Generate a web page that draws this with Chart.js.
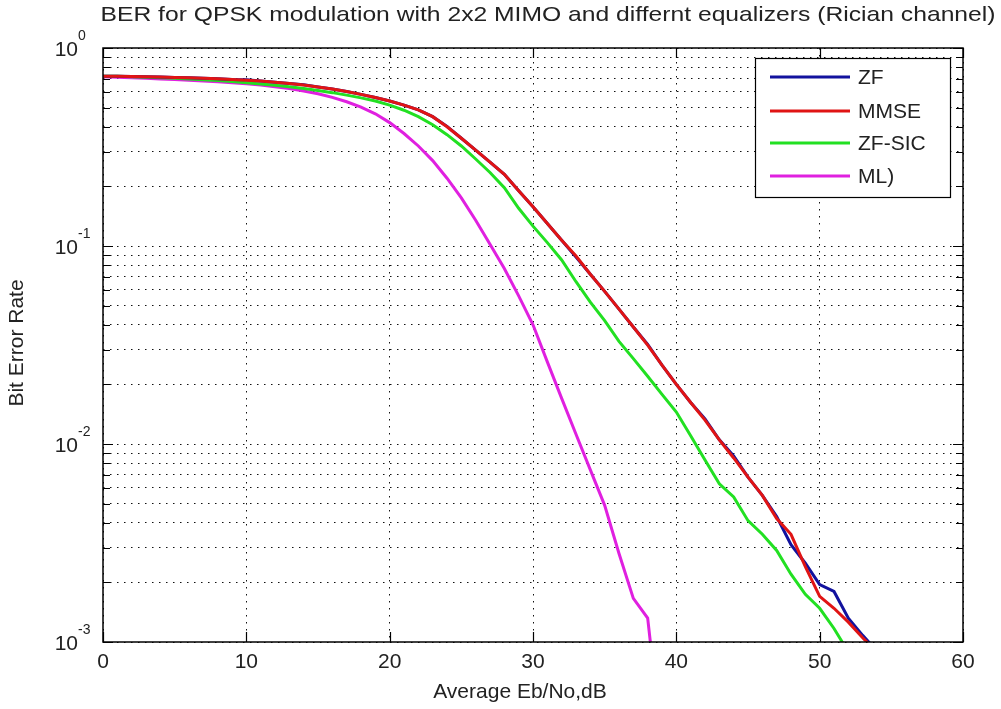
<!DOCTYPE html>
<html>
<head>
<meta charset="utf-8">
<script src="https://cdn.jsdelivr.net/npm/chart.js@4.4.0/dist/chart.umd.min.js"></script>
<style>
  html, body { margin: 0; padding: 0; background: #fff; }
  #wrap { width: 1001px; height: 709px; }
</style>
</head>
<body>
<div id="wrap"><canvas id="ber-chart" width="1001" height="709"></canvas></div>
<script>
// --- Data ---
const snrDb = [0, 1, 2, 3, 4, 5, 6, 7, 8, 9, 10, 11, 12, 13, 14, 15, 16, 17, 18, 19,
    20, 21, 22, 23, 24, 25, 26, 27, 28, 29, 30, 31, 32, 33, 34, 35, 36, 37, 38, 39,
    40, 41, 42, 43, 44, 45, 46, 47, 48, 49, 50, 51, 52, 53, 54];

const berZF = [0.72, 0.72, 0.718, 0.716, 0.713, 0.71, 0.707, 0.703, 0.699, 0.694,
    0.692, 0.681, 0.672, 0.662, 0.652, 0.636, 0.62, 0.603, 0.583, 0.562,
    0.54, 0.515, 0.487, 0.45, 0.402, 0.35, 0.305, 0.265, 0.23, 0.19,
    0.158, 0.13, 0.107, 0.088, 0.072, 0.059, 0.048, 0.039, 0.0318, 0.025,
    0.020, 0.0162, 0.0134, 0.0105, 0.0087, 0.0068, 0.0055, 0.0043, 0.0031, 0.0025,
    0.00195, 0.0018, 0.00132, 0.00108, 0.0009];

const berMMSE = [0.72, 0.72, 0.718, 0.716, 0.713, 0.71, 0.707, 0.703, 0.699, 0.694,
    0.688, 0.681, 0.672, 0.662, 0.65, 0.636, 0.62, 0.603, 0.583, 0.562,
    0.54, 0.515, 0.487, 0.45, 0.40, 0.35, 0.305, 0.265, 0.23, 0.19,
    0.158, 0.13, 0.107, 0.089, 0.072, 0.059, 0.048, 0.039, 0.0316, 0.025,
    0.020, 0.0162, 0.0132, 0.0105, 0.0085, 0.0068, 0.0055, 0.0042, 0.0035, 0.0024,
    0.0017, 0.00148, 0.00126, 0.00105, 0.00089];

const berZFSIC = [0.72, 0.72, 0.715, 0.712, 0.708, 0.703, 0.698, 0.692, 0.685, 0.677,
    0.668, 0.658, 0.648, 0.637, 0.625, 0.61, 0.595, 0.578, 0.56, 0.54,
    0.515, 0.485, 0.45, 0.41, 0.365, 0.32, 0.275, 0.235, 0.197, 0.155,
    0.126, 0.104, 0.085, 0.066, 0.052, 0.042, 0.033, 0.027, 0.022, 0.0178,
    0.0145, 0.011, 0.0083, 0.0063, 0.0054, 0.0041, 0.0035, 0.0029, 0.0022, 0.00174,
    0.00148, 0.00117, 0.00089, null, null];

const berML = [0.715, 0.712, 0.708, 0.703, 0.698, 0.693, 0.687, 0.681, 0.675, 0.668,
    0.66, 0.65, 0.638, 0.624, 0.607, 0.587, 0.563, 0.535, 0.503, 0.465,
    0.42, 0.37, 0.32, 0.27, 0.22, 0.175, 0.135, 0.102, 0.077, 0.056,
    0.04, 0.026, 0.017, 0.0112, 0.0074, 0.0049, 0.0028, 0.00166, 0.00132, 0.0003,
    null, null, null, null, null, null, null, null, null, null,
    null, null, null, null, null];

const xTicks = [0, 10, 20, 30, 40, 50, 60];
const yDecades = [-3, -2, -1, 0];

const titleText = 'BER for QPSK modulation with 2x2 MIMO and differnt equalizers (Rician channel)';
const xLabel = 'Average Eb/No,dB';
const yLabel = 'Bit Error Rate';

// --- Helpers ---
const FONT = '"Liberation Sans", Arial, sans-serif';

function toPoints(values) {
    return snrDb.map((x, i) => ({ x: x, y: values[i] }));
}

// log ticks 1..9 x 10^n, plus the top decade
function buildLogTicks() {
    const ticks = [];
    for (let d = 0; d < yDecades.length - 1; d++) {
        for (let m = 1; m <= 9; m++) {
            ticks.push({ value: m * Math.pow(10, yDecades[d]), major: m === 1 });
        }
    }
    ticks.push({ value: Math.pow(10, yDecades[yDecades.length - 1]), major: true });
    return ticks;
}

// --- MATLAB-like frame, inward ticks, labels and legend ---
const matlabAxes = {
    id: 'matlabAxes',
    afterDatasetsDraw(chart) {
        const { ctx, chartArea: a, scales } = chart;
        ctx.save();
        ctx.strokeStyle = '#000';
        ctx.lineWidth = 1.5;
        ctx.setLineDash([]);
        ctx.strokeRect(a.left, a.top, a.right - a.left, a.bottom - a.top);

        ctx.lineWidth = 1.2;
        ctx.beginPath();
        scales.y.ticks.forEach(t => {
            const py = Math.round(scales.y.getPixelForValue(t.value)) + 0.5;
            const len = t.major ? 10 : 7;
            ctx.moveTo(a.left, py); ctx.lineTo(a.left + len, py);
            ctx.moveTo(a.right, py); ctx.lineTo(a.right - len, py);
        });
        scales.x.ticks.forEach(t => {
            const px = Math.round(scales.x.getPixelForValue(t.value)) + 0.5;
            ctx.moveTo(px, a.bottom); ctx.lineTo(px, a.bottom - 10);
            ctx.moveTo(px, a.top); ctx.lineTo(px, a.top + 10);
        });
        ctx.stroke();

        // legend box
        const lx = 755, ly = 58, lw = 195, lh = 139;
        ctx.fillStyle = '#fff';
        ctx.fillRect(lx, ly, lw, lh);
        ctx.lineWidth = 1.2;
        ctx.strokeRect(lx + 0.5, ly + 0.5, lw, lh);
        const rows = [77, 111, 143, 176];
        ctx.font = '21px ' + FONT;
        ctx.textBaseline = 'middle';
        ctx.textAlign = 'left';
        chart.data.datasets.forEach((ds, i) => {
            ctx.strokeStyle = ds.borderColor;
            ctx.lineWidth = 3;
            ctx.beginPath();
            ctx.moveTo(770, rows[i]); ctx.lineTo(850, rows[i]);
            ctx.stroke();
            ctx.fillStyle = '#222';
            ctx.fillText(ds.label, 858, rows[i] + 1);
        });
        ctx.restore();
    },
    afterDraw(chart) {
        const { ctx, chartArea: a, scales } = chart;
        ctx.save();
        ctx.fillStyle = '#222';

        // x tick labels
        ctx.font = '21px ' + FONT;
        ctx.textAlign = 'center';
        ctx.textBaseline = 'top';
        scales.x.ticks.forEach(t => {
            ctx.fillText(String(t.value), scales.x.getPixelForValue(t.value), a.bottom + 10);
        });

        // y tick labels 10^n
        yDecades.forEach(d => {
            const py = scales.y.getPixelForValue(Math.pow(10, d));
            ctx.font = '21px ' + FONT;
            ctx.textAlign = 'right';
            ctx.textBaseline = 'middle';
            ctx.fillText('10', 78, py + 2);
            ctx.font = '14px ' + FONT;
            ctx.textAlign = 'left';
            ctx.fillText(String(d), 78, py - 12);
        });

        // title, stretched to the reference width
        ctx.font = '21px ' + FONT;
        ctx.textAlign = 'center';
        ctx.textBaseline = 'middle';
        const w = ctx.measureText(titleText).width;
        ctx.save();
        ctx.translate(548, 15);
        ctx.scale(895 / w, 1);
        ctx.fillText(titleText, 0, 0);
        ctx.restore();

        // axis labels
        ctx.font = '21px ' + FONT;
        ctx.fillText(xLabel, 520, 692);
        ctx.save();
        ctx.translate(17, 343);
        ctx.rotate(-Math.PI / 2);
        ctx.fillText(yLabel, 0, 0);
        ctx.restore();
        ctx.restore();
    }
};

// --- Chart ---
const ctx = document.getElementById('ber-chart').getContext('2d');

const gridStyle = {
    color: '#111',
    lineWidth: 1,
    drawTicks: false,
    borderDash: [1.5, 5.5]
};

new Chart(ctx, {
    type: 'line',
    data: {
        datasets: [
            { label: 'ZF', data: toPoints(berZF), borderColor: '#12129e', order: 2 },
            { label: 'MMSE', data: toPoints(berMMSE), borderColor: '#e01414', order: 1 },
            { label: 'ZF-SIC', data: toPoints(berZFSIC), borderColor: '#22e022', order: 3 },
            { label: 'ML)', data: toPoints(berML), borderColor: '#e020e0', order: 4 }
        ]
    },
    options: {
        responsive: false,
        animation: false,
        layout: { padding: { left: 103, right: 38, top: 48, bottom: 67 } },
        elements: {
            line: { borderWidth: 3, tension: 0, fill: false },
            point: { radius: 0 }
        },
        scales: {
            x: {
                type: 'linear',
                min: 0,
                max: 60,
                afterBuildTicks: scale => { scale.ticks = xTicks.map(v => ({ value: v })); },
                afterFit: scale => { scale.height = 0; },
                ticks: { display: false },
                grid: gridStyle,
                border: { display: false, dash: [1.5, 5.5] }
            },
            y: {
                type: 'logarithmic',
                min: 1e-3,
                max: 1,
                afterBuildTicks: scale => { scale.ticks = buildLogTicks(); },
                afterFit: scale => { scale.width = 0; },
                ticks: { display: false },
                grid: gridStyle,
                border: { display: false, dash: [1.5, 5.5] }
            }
        },
        plugins: {
            legend: { display: false },
            tooltip: { enabled: false }
        }
    },
    plugins: [matlabAxes]
});
</script>
</body>
</html>
